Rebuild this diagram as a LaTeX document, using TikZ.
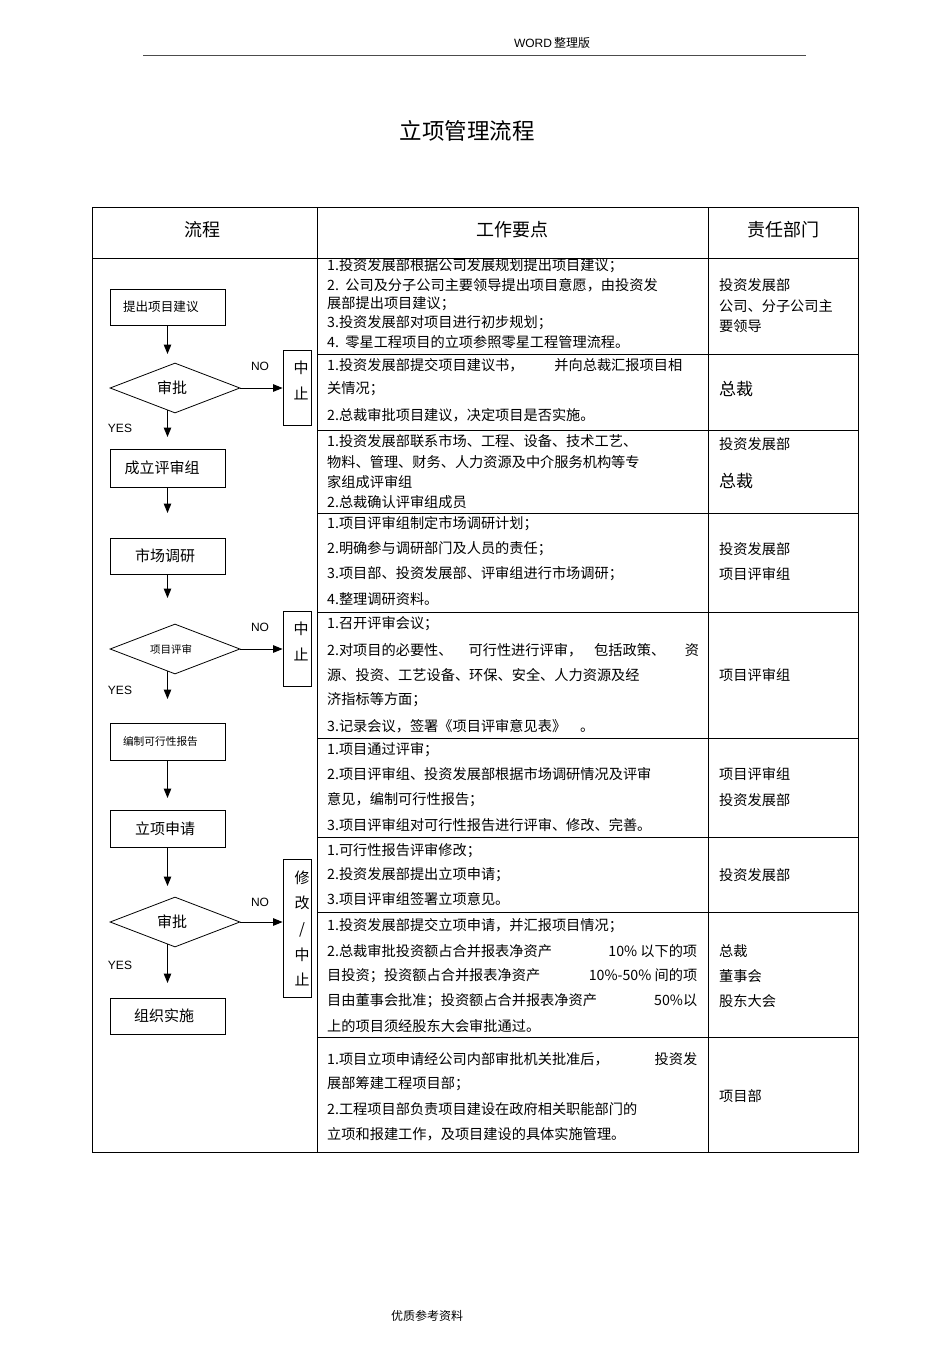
\documentclass[tikz,border=0pt]{standalone}
\usepackage{fontspec}
\setmainfont{Noto Sans CJK SC}
\newfontfamily\latinsans{Liberation Sans}
\usetikzlibrary{arrows.meta,shapes.geometric}
\tikzset{
  tline/.style={line width=0.9pt, draw=black},
  fbox/.style={draw, line width=0.8pt, minimum width=115pt, minimum height=36pt, inner sep=0pt},
  dia/.style={draw, diamond, line width=0.8pt, aspect=2.6, minimum width=130pt, minimum height=50pt, inner sep=0pt},
  vbox/.style={draw, line width=0.8pt, minimum width=28pt, inner sep=0pt},
  arr/.style={-{Triangle[length=9.5pt,width=7.5pt]}, line width=1pt},
  ftxt/.style={inner sep=0pt, font=\fontsize{15}{18}\selectfont},
  vtxt/.style={inner sep=0pt, align=center, font=\fontsize{15}{26}\selectfont},
  yn/.style={inner sep=0pt, font=\latinsans\fontsize{12}{14}\selectfont},
  cell/.style={inner sep=0pt, anchor=west, font=\fontsize{14.2}{17}\selectfont},
  big/.style={inner sep=0pt, anchor=west, font=\fontsize{17}{20}\selectfont},
  head/.style={inner sep=0pt, font=\fontsize{18}{20}\selectfont},
}
\begin{document}
\begin{tikzpicture}[x=1pt,y=-1pt]
\useasboundingbox (0,0) rectangle (950,1345);
\fill[white] (0,0) rectangle (950,1345);

% page header / footer / title
\node[inner sep=0pt, font=\fontsize{12}{14}\selectfont] (hdr) at (552,43) {\latinsans WORD\,\rmfamily 整理版};
\draw[line width=0.7pt, draw=black!70] (143,55) -- (806,55);
\node[inner sep=0pt, font=\fontsize{22.5}{26}\selectfont] (title) at (467,131) {立项管理流程};
\node[inner sep=0pt, font=\fontsize{12}{14}\selectfont] (ftr) at (427,1316) {优质参考资料};

% table
\draw[tline] (92,207) rectangle (858,1152);
\draw[tline] (317,207) -- (317,1152);
\draw[tline] (708,207) -- (708,1152);
\draw[tline] (92,258) -- (858,258);
\foreach \yy in {354,430,513,612,738,837,912,1037}
  \draw[tline] (317,\yy) -- (858,\yy);

\node[head] (h1) at (202,230) {流程};
\node[head] (h2) at (512,230) {工作要点};
\node[head] (h3) at (783,230) {责任部门};

% flowchart
\node[fbox, text width=89pt, align=left, font=\fontsize{12.6}{15}\selectfont] (b1) at (167.5,307) {提出项目建议};
\node[dia] (d1) at (175,388) {};
\node[ftxt] (d1t) at (172,388) {审批};
\node[vbox, minimum height=75pt] (s1) at (297,387.5) {};
\node[vtxt] (s1t) at (301,380) {中\\止};
\node[yn] (n1) at (260,366) {NO};
\node[yn] (y1) at (120,428) {YES};

\node[fbox, minimum height=38pt] (b2) at (167.5,468) {};
\node[ftxt] (b2t) at (162,468) {成立评审组};
\node[fbox] (b3) at (167.5,556) {};
\node[ftxt] (b3t) at (165,556) {市场调研};

\node[dia] (d2) at (175,649) {};
\node[inner sep=0pt, font=\fontsize{10.5}{12}\selectfont] (d2t) at (171,649) {项目评审};
\node[vbox, minimum height=75pt] (s2) at (297,648.5) {};
\node[vtxt] (s2t) at (301,641) {中\\止};
\node[yn] (n2) at (260,627) {NO};
\node[yn] (y2) at (120,690) {YES};

\node[fbox, minimum height=37pt, text width=89pt, align=left, font=\fontsize{10.7}{13}\selectfont] (b4) at (167.5,741.5) {编制可行性报告};
\node[fbox, minimum height=37pt] (b5) at (167.5,828.5) {};
\node[ftxt] (b5t) at (165,829) {立项申请};

\node[dia] (d3) at (175,922) {};
\node[ftxt] (d3t) at (172,922) {审批};
\node[vbox, minimum height=138pt] (s3) at (297,928) {};
\node[vtxt, font=\fontsize{15}{25.7}\selectfont] (s3t) at (302,928.5) {修\\改\\/\\中\\止};
\node[yn] (n3) at (260,902) {NO};
\node[yn] (y3) at (120,965) {YES};

\node[fbox] (b6) at (167.5,1016) {};
\node[ftxt] (b6t) at (164,1016) {组织实施};

% free arrow ends
\coordinate (a1) at (167.5,354);
\coordinate (a2) at (167.5,437);
\coordinate (a3) at (167.5,513);
\coordinate (a4) at (167.5,598);
\coordinate (a5) at (167.5,699);
\coordinate (a6) at (167.5,798);
\coordinate (a7) at (167.5,886);
\coordinate (a8) at (167.5,983);

\draw[arr] (b1.south) -- (a1);
\draw[arr, shorten <=-3pt] (d1.south -| b1.south) -- (a2);
\draw[arr] (b2.south) -- (a3);
\draw[arr] (b3.south) -- (a4);
\draw[arr, shorten <=-3pt] (d2.south -| b1.south) -- (a5);
\draw[arr] (b4.south) -- (a6);
\draw[arr] (b5.south) -- (a7);
\draw[arr, shorten <=-3pt] (d3.south -| b1.south) -- (a8);
\draw[arr] (d1.east) -- (d1.east -| s1.west);
\draw[arr] (d2.east) -- (d2.east -| s2.west);
\draw[arr] (d3.east) -- (d3.east -| s3.west);

% row 1
\node[cell] (r1a) at (327,266) {1.投资发展部根据公司发展规划提出项目建议；};
\node[cell] (r1b) at (327,285) {2.\ \ 公司及分子公司主要领导提出项目意愿，由投资发};
\node[cell] (r1c) at (327,304) {展部提出项目建议；};
\node[cell] (r1d) at (327,323) {3.投资发展部对项目进行初步规划；};
\node[cell] (r1e) at (327,342) {4.\ \ 零星工程项目的立项参照零星工程管理流程。};
\node[cell] (q1a) at (719,285) {投资发展部};
\node[cell] (q1b) at (719,306) {公司、分子公司主};
\node[cell] (q1c) at (719,326) {要领导};

% row 2
\node[cell] (r2a) at (327,365) {\makebox[355pt][l]{1.投资发展部提交项目建议书，\hfill 并向总裁汇报项目相}};
\node[cell] (r2b) at (327,389) {关情况；};
\node[cell] (r2c) at (327,415) {2.总裁审批项目建议，决定项目是否实施。};
\node[big] (q2a) at (719,389) {总裁};

% row 3
\node[cell] (r3a) at (327,441) {1.投资发展部联系市场、工程、设备、技术工艺、};
\node[cell] (r3b) at (327,462) {物料、管理、财务、人力资源及中介服务机构等专};
\node[cell] (r3c) at (327,482) {家组成评审组};
\node[cell] (r3d) at (327,502) {2.总裁确认评审组成员};
\node[cell] (q3a) at (719,444) {投资发展部};
\node[big] (q3b) at (719,481) {总裁};

% row 4
\node[cell] (r4a) at (327,524) {1.项目评审组制定市场调研计划；};
\node[cell] (r4b) at (327,549) {2.明确参与调研部门及人员的责任；};
\node[cell] (r4c) at (327,574) {3.项目部、投资发展部、评审组进行市场调研；};
\node[cell] (r4d) at (327,599) {4.整理调研资料。};
\node[cell] (q4a) at (719,549) {投资发展部};
\node[cell] (q4b) at (719,574) {项目评审组};

% row 5
\node[cell] (r5a) at (327,624) {1.召开评审会议；};
\node[cell] (r5b) at (327,650) {\makebox[372pt][l]{2.对项目的必要性、\hspace{16pt}可行性进行评审，\hspace{12pt}包括政策、\hfill 资}};
\node[cell] (r5c) at (327,675) {源、投资、工艺设备、环保、安全、人力资源及经};
\node[cell] (r5d) at (327,700) {济指标等方面；};
\node[cell] (r5e) at (327,726) {3.记录会议，签署《项目评审意见表》\hspace{14pt}。};
\node[cell] (q5a) at (719,675) {项目评审组};

% row 6
\node[cell] (r6a) at (327,750) {1.项目通过评审；};
\node[cell] (r6b) at (327,774) {2.项目评审组、投资发展部根据市场调研情况及评审};
\node[cell] (r6c) at (327,800) {意见，编制可行性报告；};
\node[cell] (r6d) at (327,825) {3.项目评审组对可行性报告进行评审、修改、完善。};
\node[cell] (q6a) at (719,774) {项目评审组};
\node[cell] (q6b) at (719,800) {投资发展部};

% row 7
\node[cell] (r7a) at (327,851) {1.可行性报告评审修改；};
\node[cell] (r7b) at (327,875) {2.投资发展部提出立项申请；};
\node[cell] (r7c) at (327,899) {3.项目评审组签署立项意见。};
\node[cell] (q7a) at (719,875) {投资发展部};

% row 8
\node[cell] (r8a) at (327,926) {1.投资发展部提交立项申请，并汇报项目情况；};
\node[cell] (r8b) at (327,951) {\makebox[370pt][l]{2.总裁审批投资额占合并报表净资产\hfill 10\% 以下的项}};
\node[cell] (r8c) at (327,976) {\makebox[370pt][l]{目投资；投资额占合并报表净资产\hfill 10\%-50\% 间的项}};
\node[cell] (r8d) at (327,1001) {\makebox[370pt][l]{目由董事会批准；投资额占合并报表净资产\hfill 50\%以}};
\node[cell] (r8e) at (327,1026) {上的项目须经股东大会审批通过。};
\node[cell] (q8a) at (719,951) {总裁};
\node[cell] (q8b) at (719,976) {董事会};
\node[cell] (q8c) at (719,1001) {股东大会};

% row 9
\node[cell] (r9a) at (327,1059) {\makebox[370pt][l]{1.项目立项申请经公司内部审批机关批准后，\hfill 投资发}};
\node[cell] (r9b) at (327,1084) {展部筹建工程项目部；};
\node[cell] (r9c) at (327,1109) {2.工程项目部负责项目建设在政府相关职能部门的};
\node[cell] (r9d) at (327,1134) {立项和报建工作，及项目建设的具体实施管理。};
\node[cell] (q9a) at (719,1096) {项目部};
\end{tikzpicture}
\end{document}
